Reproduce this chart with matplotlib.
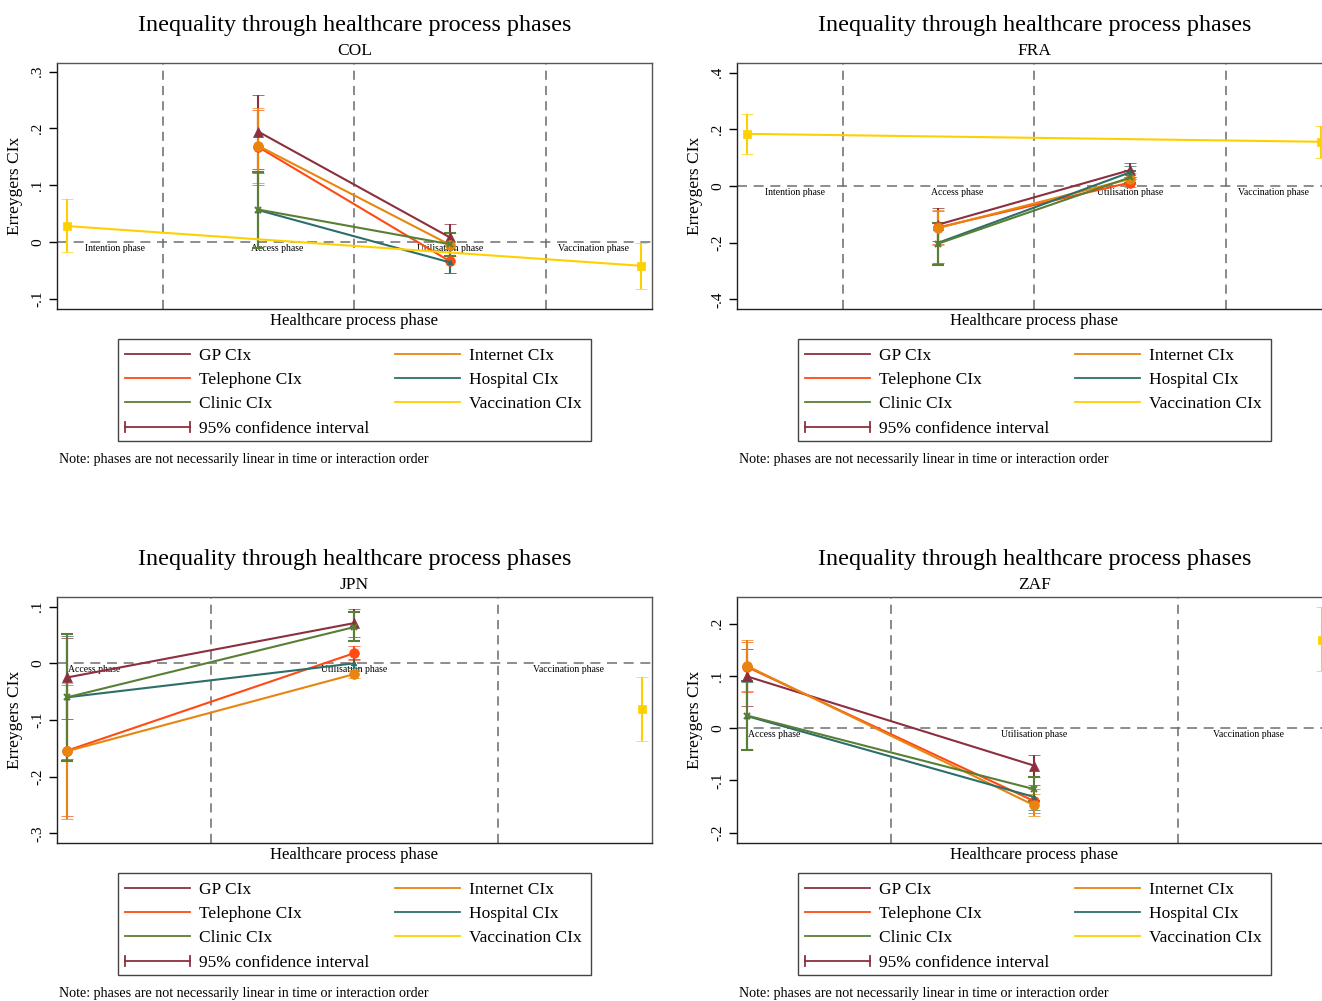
import matplotlib
matplotlib.use("Agg")
import matplotlib.pyplot as plt
from matplotlib.lines import Line2D
from matplotlib.patches import Rectangle

plt.rcParams['font.family'] = ['Liberation Serif', 'DejaVu Serif']

# ---------------- data ----------------
SERIES = ["GP CIx", "Telephone CIx", "Internet CIx", "Hospital CIx", "Clinic CIx", "Vaccination CIx"]

# COL
COL_PHASES = ["Intention phase", "Access phase", "Utilisation phase", "Vaccination phase"]
COL_SERVICE_PHASES = ["Access phase", "Utilisation phase"]
COL_VACC_PHASES = ["Intention phase", "Vaccination phase"]
COL_EST = {"GP CIx": [0.194, 0.008], "Telephone CIx": [0.167, -0.034], "Internet CIx": [0.169, -0.005],
           "Hospital CIx": [0.056, -0.036], "Clinic CIx": [0.057, -0.004], "Vaccination CIx": [0.028, -0.042]}
COL_LO = {"GP CIx": [0.128, -0.013], "Telephone CIx": [0.101, -0.055], "Internet CIx": [0.103, -0.025],
          "Hospital CIx": [-0.008, -0.055], "Clinic CIx": [-0.010, -0.024], "Vaccination CIx": [-0.018, -0.083]}
COL_HI = {"GP CIx": [0.259, 0.031], "Telephone CIx": [0.232, -0.012], "Internet CIx": [0.235, 0.016],
          "Hospital CIx": [0.121, -0.017], "Clinic CIx": [0.124, 0.016], "Vaccination CIx": [0.075, -0.001]}

# FRA
FRA_PHASES = ["Intention phase", "Access phase", "Utilisation phase", "Vaccination phase"]
FRA_SERVICE_PHASES = ["Access phase", "Utilisation phase"]
FRA_VACC_PHASES = ["Intention phase", "Vaccination phase"]
FRA_EST = {"GP CIx": [-0.136, 0.056], "Telephone CIx": [-0.146, 0.012], "Internet CIx": [-0.148, 0.025],
           "Hospital CIx": [-0.200, 0.048], "Clinic CIx": [-0.203, 0.030], "Vaccination CIx": [0.184, 0.156]}
FRA_LO = {"GP CIx": [-0.195, 0.031], "Telephone CIx": [-0.205, -0.004], "Internet CIx": [-0.207, 0.006],
          "Hospital CIx": [-0.272, 0.026], "Clinic CIx": [-0.277, 0.010], "Vaccination CIx": [0.112, 0.100]}
FRA_HI = {"GP CIx": [-0.078, 0.081], "Telephone CIx": [-0.087, 0.030], "Internet CIx": [-0.084, 0.045],
          "Hospital CIx": [-0.129, 0.070], "Clinic CIx": [-0.131, 0.052], "Vaccination CIx": [0.253, 0.212]}

# JPN
JPN_PHASES = ["Access phase", "Utilisation phase", "Vaccination phase"]
JPN_SERVICE_PHASES = ["Access phase", "Utilisation phase"]
JPN_VACC_PHASES = ["Vaccination phase"]
JPN_EST = {"GP CIx": [-0.025, 0.071], "Telephone CIx": [-0.154, 0.018], "Internet CIx": [-0.155, -0.019],
           "Hospital CIx": [-0.060, 0.000], "Clinic CIx": [-0.060, 0.064], "Vaccination CIx": [-0.081]}
JPN_LO = {"GP CIx": [-0.098, 0.046], "Telephone CIx": [-0.270, 0.005], "Internet CIx": [-0.275, -0.026],
          "Hospital CIx": [-0.168, -0.009], "Clinic CIx": [-0.172, 0.039], "Vaccination CIx": [-0.137]}
JPN_HI = {"GP CIx": [0.045, 0.096], "Telephone CIx": [-0.038, 0.030], "Internet CIx": [-0.034, -0.012],
          "Hospital CIx": [0.048, 0.008], "Clinic CIx": [0.051, 0.090], "Vaccination CIx": [-0.024]}

# ZAF
ZAF_PHASES = ["Access phase", "Utilisation phase", "Vaccination phase"]
ZAF_SERVICE_PHASES = ["Access phase", "Utilisation phase"]
ZAF_VACC_PHASES = ["Vaccination phase"]
ZAF_EST = {"GP CIx": [0.099, -0.072], "Telephone CIx": [0.117, -0.140], "Internet CIx": [0.119, -0.148],
           "Hospital CIx": [0.023, -0.132], "Clinic CIx": [0.024, -0.117], "Vaccination CIx": [0.169]}
ZAF_LO = {"GP CIx": [0.043, -0.094], "Telephone CIx": [0.070, -0.163], "Internet CIx": [0.071, -0.169],
          "Hospital CIx": [-0.042, -0.157], "Clinic CIx": [-0.041, -0.140], "Vaccination CIx": [0.109]}
ZAF_HI = {"GP CIx": [0.151, -0.051], "Telephone CIx": [0.165, -0.117], "Internet CIx": [0.168, -0.127],
          "Hospital CIx": [0.089, -0.108], "Clinic CIx": [0.091, -0.094], "Vaccination CIx": [0.231]}

COL_YTICKS = [-0.1, 0, 0.1, 0.2, 0.3]
FRA_YTICKS = [-0.4, -0.2, 0, 0.2, 0.4]
JPN_YTICKS = [-0.3, -0.2, -0.1, 0, 0.1]
ZAF_YTICKS = [-0.2, -0.1, 0, 0.1, 0.2]

# ---------------- style ----------------
COLORS = {"GP CIx": "#8C2F3E", "Telephone CIx": "#FF4A14", "Internet CIx": "#E8850F",
          "Hospital CIx": "#2C6E6A", "Clinic CIx": "#5A7F34", "Vaccination CIx": "#FFD000"}
MARKERS = {"GP CIx": ("^", 7), "Telephone CIx": ("o", 7), "Internet CIx": ("o", 7),
           "Hospital CIx": ("^", 3.5), "Clinic CIx": ("x", 4), "Vaccination CIx": ("s", 6)}
LEGEND_ORDER = ["GP CIx", "Telephone CIx", "Clinic CIx", "Internet CIx", "Hospital CIx", "Vaccination CIx"]

W, H = 1322, 1001
fig = plt.figure(figsize=(W / 100, H / 100), dpi=100)
fig.patch.set_facecolor("white")


def fx(x):
    return x / W


def fy(y):
    return 1 - y / H


def fmt(v):
    if abs(v) < 1e-9:
        return "0"
    s = f"{v:.1f}"
    return s.replace("0.", ".")


def panel(country, phases, svc_ph, vac_ph, est, lo, hi, yticks, ylim, xlim, label_x, box):
    l, t, r, b = box
    ax = fig.add_axes([fx(l), fy(b), (r - l) / W, (b - t) / H])
    ax.set_xlim(*xlim)
    ax.set_ylim(*ylim)
    # reference lines
    ax.axhline(0, color="#7a7a7a", lw=1.2, ls=(0, (6, 4)), zorder=1)
    for k in range(1, len(phases)):
        ax.axvline(k + 0.5, color="#6a6a6a", lw=1.1, ls=(0, (6, 4)), zorder=1)
    for name, lx in zip(phases, label_x):
        ax.text(lx, -0.027 * (ylim[1] - ylim[0]), name, ha="center", va="center", fontsize=7, zorder=2)
    for s in SERIES:
        ph = vac_ph if s == "Vaccination CIx" else svc_ph
        xs = [phases.index(p) + 1 for p in ph]
        e, lo_, hi_ = est[s], lo[s], hi[s]
        yerr = [[ei - li for ei, li in zip(e, lo_)], [hi_i - ei for ei, hi_i in zip(e, hi_)]]
        m, ms = MARKERS[s]
        ax.errorbar(xs, e, yerr=yerr, color=COLORS[s], lw=1.5, elinewidth=1.5, capsize=4, capthick=1.5,
                    marker=m, ms=ms, mew=1.5 if m == "x" else 0.5, zorder=3)
    ax.set_yticks(yticks)
    ax.set_yticklabels([fmt(v) for v in yticks], rotation=90, va="center", fontsize=11)
    ax.set_xticks([])
    ax.tick_params(axis="y", direction="out", length=6, width=1, pad=3)
    for sp in ax.spines.values():
        sp.set_color("#222222")
        sp.set_linewidth(1.0)
    ax.spines["top"].set_color("#555555")
    ax.spines["right"].set_color("#555555")
    ax.set_ylabel("Erreygers CIx", fontsize=12.5, labelpad=6)
    cx = (l + r) / 2
    fig.text(fx(cx), fy(t - 38), "Inequality through healthcare process phases", ha="center", va="center",
             fontsize=17.4)
    fig.text(fx(cx), fy(t - 12), country, ha="center", va="center", fontsize=12.5)
    fig.text(fx(cx), fy(b + 12), "Healthcare process phase", ha="center", va="center", fontsize=12)

    # legend
    lx0 = l + 61
    ly0 = b + 30
    fig.patches.append(Rectangle((fx(lx0), fy(ly0 + 102)), 473 / W, 102 / H, transform=fig.transFigure,
                                 fill=False, edgecolor="#444444", lw=1.0))
    rows = [15, 39, 63, 88]
    cols = [(lx0 + 7, lx0 + 72, lx0 + 81), (lx0 + 277, lx0 + 342, lx0 + 351)]
    for i, s in enumerate(LEGEND_ORDER):
        c = cols[0] if i < 3 else cols[1]
        yy = ly0 + rows[i % 3]
        fig.lines.append(Line2D([fx(c[0]), fx(c[1])], [fy(yy), fy(yy)], transform=fig.transFigure,
                                color=COLORS[s], lw=1.3))
        fig.text(fx(c[2]), fy(yy + 2), s, ha="left", va="center", fontsize=12.5)
    yy = ly0 + rows[3]
    c = cols[0]
    fig.lines.append(Line2D([fx(c[0]), fx(c[1])], [fy(yy), fy(yy)], transform=fig.transFigure,
                            color=COLORS["GP CIx"], lw=1.3))
    for xe in (c[0], c[1]):
        fig.lines.append(Line2D([fx(xe), fx(xe)], [fy(yy - 5), fy(yy + 5)], transform=fig.transFigure,
                                color=COLORS["GP CIx"], lw=1.3))
    fig.text(fx(c[2]), fy(yy + 2), "95% confidence interval", ha="left", va="center", fontsize=12.5)
    fig.text(fx(l + 2), fy(b + 150), "Note: phases are not necessarily linear in time or interaction order",
             ha="left", va="center", fontsize=10.1)
    return ax


X4 = (0.948, 4.055)
X3 = (0.965, 3.036)
L4 = [1.25, 2.1, 3.0, 3.75]
L3 = [1.095, 2.0, 2.745]

panel("COL", COL_PHASES, COL_SERVICE_PHASES, COL_VACC_PHASES, COL_EST, COL_LO, COL_HI,
      COL_YTICKS, (-0.118, 0.315), X4, L4, (57, 63, 652, 309))
panel("FRA", FRA_PHASES, FRA_SERVICE_PHASES, FRA_VACC_PHASES, FRA_EST, FRA_LO, FRA_HI,
      FRA_YTICKS, (-0.434, 0.434), X4, L4, (737, 63, 1332, 309))
panel("JPN", JPN_PHASES, JPN_SERVICE_PHASES, JPN_VACC_PHASES, JPN_EST, JPN_LO, JPN_HI,
      JPN_YTICKS, (-0.317, 0.117), X3, L3, (57, 597, 652, 843))
panel("ZAF", ZAF_PHASES, ZAF_SERVICE_PHASES, ZAF_VACC_PHASES, ZAF_EST, ZAF_LO, ZAF_HI,
      ZAF_YTICKS, (-0.22, 0.251), X3, L3, (737, 597, 1332, 843))

fig.savefig("out.png", dpi=100, facecolor="white")
